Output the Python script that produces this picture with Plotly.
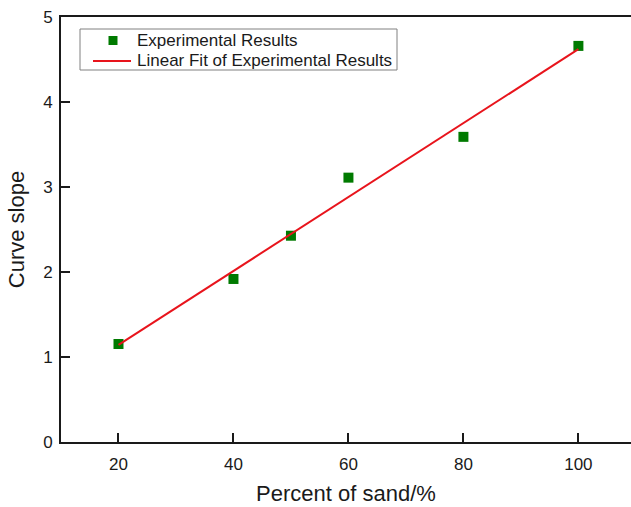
import numpy as np
import plotly.graph_objects as go

sand_pct = [20, 40, 50, 60, 80, 100]
slope_vals = [1.153, 1.918, 2.427, 3.11, 3.59, 4.66]
x_ticks = [20, 40, 60, 80, 100]
y_ticks = [0, 1, 2, 3, 4, 5]
series_names = ["Experimental Results", "Linear Fit of Experimental Results"]

coef = np.polyfit(sand_pct, slope_vals, 1)
fit_x = [min(sand_pct), max(sand_pct)]
fit_y = [coef[0] * v + coef[1] for v in fit_x]

FONT = "Arial, Liberation Sans, sans-serif"
TXT = "#1a1a1a"
GREEN = "#007a00"
RED = "#e8141c"

W, H = 631, 507
ML, MR, MT, MB = 61, 0, 17, 65
PW, PH = W - ML - MR, H - MT - MB


def px(xpix):
    return (xpix - ML) / PW


def py(ypix):
    return (H - MB - ypix) / PH


fig = go.Figure()
fig.add_trace(go.Scatter(
    x=sand_pct, y=slope_vals, mode="markers", name=series_names[0],
    marker=dict(symbol="square", size=10, color=GREEN, line=dict(width=0)),
))
fig.add_trace(go.Scatter(
    x=fit_x, y=fit_y, mode="lines", name=series_names[1],
    line=dict(color=RED, width=2),
))

# legend box drawn to match the reference's compact layout
shapes = [
    dict(type="rect", xref="paper", yref="paper",
         x0=px(80), x1=px(397), y0=py(70), y1=py(29),
         line=dict(color="#808080", width=1), fillcolor="white", layer="above"),
    dict(type="rect", xref="paper", yref="paper",
         xsizemode="pixel", ysizemode="pixel",
         xanchor=px(113), yanchor=py(40.5),
         x0=-4.5, x1=4.5, y0=-4.5, y1=4.5,
         line=dict(width=0), fillcolor=GREEN, layer="above"),
    dict(type="line", xref="paper", yref="paper",
         x0=px(93), x1=px(131), y0=py(61), y1=py(61),
         line=dict(color=RED, width=2), layer="above"),
]
annotations = [
    dict(xref="paper", yref="paper", x=px(135), y=py(40.5),
         xanchor="left", yanchor="middle", showarrow=False,
         text=series_names[0], font=dict(size=17, family=FONT, color=TXT)),
    dict(xref="paper", yref="paper", x=px(135), y=py(60.5),
         xanchor="left", yanchor="middle", showarrow=False,
         text=series_names[1], font=dict(size=17, family=FONT, color=TXT)),
]

fig.update_layout(
    width=W, height=H,
    margin=dict(l=ML, r=MR, t=MT, b=MB),
    paper_bgcolor="white", plot_bgcolor="white",
    font=dict(family=FONT, color=TXT, size=17),
    showlegend=False,
    shapes=shapes, annotations=annotations,
)
fig.update_xaxes(
    range=[10, 109.15], tickvals=x_ticks, ticks="inside", ticklen=9,
    tickwidth=2, tickcolor="#1a1a1a",
    showline=True, linecolor="#1a1a1a", linewidth=2, mirror=True,
    showgrid=False, zeroline=False,
    tickfont=dict(size=17), ticklabelstandoff=6,
    title=dict(text="Percent of sand/%", font=dict(size=22), standoff=12),
)
fig.update_yaxes(
    range=[0, 5], tickvals=y_ticks, ticks="inside", ticklen=9,
    tickwidth=2, tickcolor="#1a1a1a",
    showline=True, linecolor="#1a1a1a", linewidth=2, mirror=False,
    showgrid=False, zeroline=False,
    tickfont=dict(size=17), ticklabelstandoff=3,
    title=dict(text="Curve slope", font=dict(size=22), standoff=12),
)

fig.write_html("out.html")
